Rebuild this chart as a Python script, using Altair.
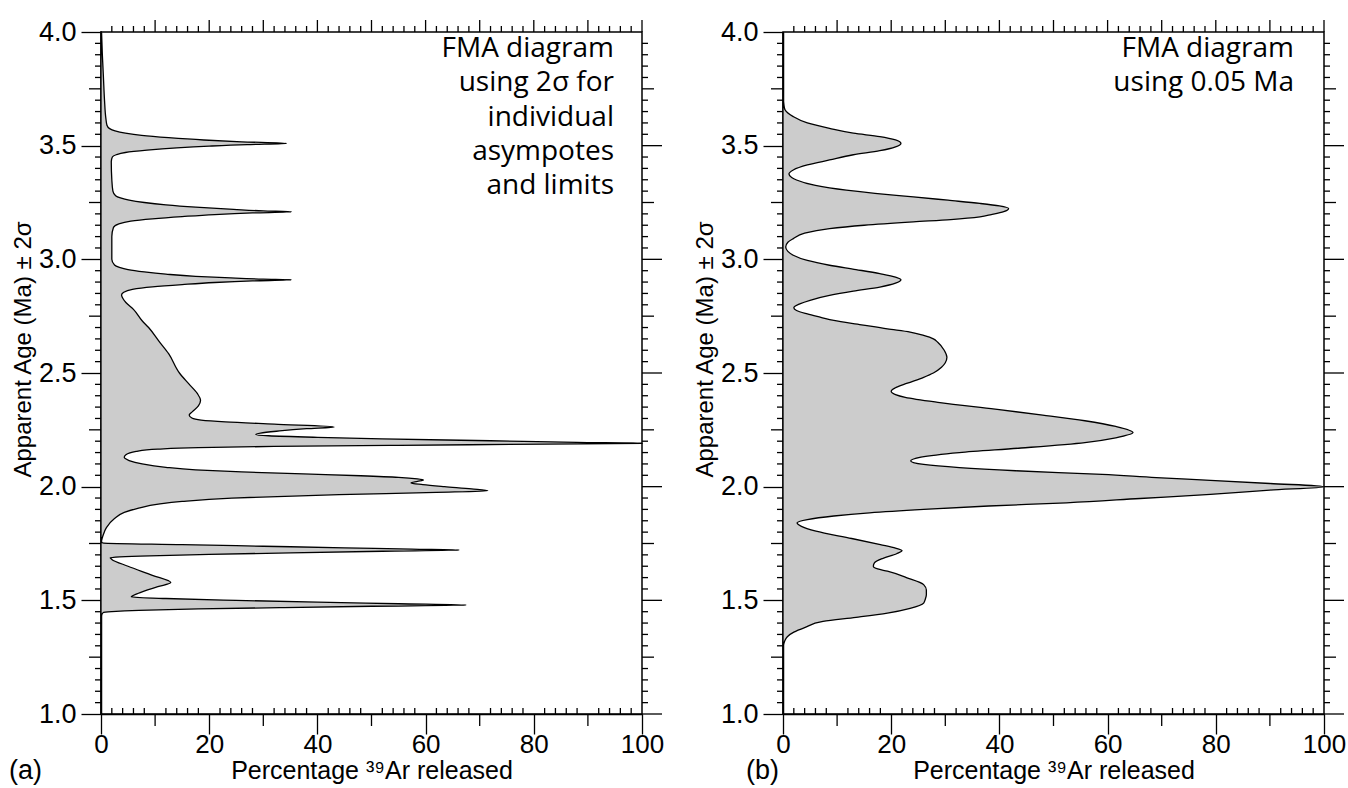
import altair as alt
import pandas as pd

# ---------------- data ----------------
# Panel (a): FMA diagram using 2 sigma  (age in Ma, percentage 39Ar)
age_a = [4.00, 3.90, 3.80, 3.70, 3.62, 3.59, 3.575, 3.565, 3.555, 3.545, 3.535, 3.525, 3.517, 3.51,
         3.505, 3.498, 3.49, 3.48, 3.47, 3.46, 3.45, 3.43, 3.35, 3.30, 3.28, 3.27, 3.26, 3.25, 3.24,
         3.23, 3.22, 3.213, 3.209, 3.204, 3.197, 3.188, 3.178, 3.168, 3.155, 3.14, 3.10, 3.00, 2.975,
         2.965, 2.955, 2.945, 2.935, 2.925, 2.918, 2.913, 2.910, 2.905, 2.898, 2.889, 2.879, 2.868,
         2.855, 2.843, 2.83, 2.81, 2.78, 2.73, 2.70, 2.64, 2.585, 2.50, 2.453, 2.41, 2.38, 2.355, 2.33,
         2.315, 2.302, 2.293, 2.285, 2.275, 2.263, 2.255, 2.245, 2.236, 2.230, 2.224, 2.217, 2.210,
         2.202, 2.195, 2.191, 2.187, 2.182, 2.177, 2.172, 2.165, 2.155, 2.14, 2.129, 2.115, 2.10, 2.085,
         2.074, 2.065, 2.056, 2.048, 2.041, 2.034, 2.029, 2.023, 2.016, 2.009, 2.0, 1.99, 1.982, 1.975,
         1.965, 1.95, 1.935, 1.924, 1.905, 1.887, 1.86, 1.82, 1.78, 1.755, 1.752, 1.745, 1.738, 1.731,
         1.725, 1.721, 1.716, 1.709, 1.702, 1.696, 1.691, 1.687, 1.68, 1.65, 1.61, 1.578, 1.56, 1.53,
         1.515, 1.508, 1.500, 1.492, 1.485, 1.479, 1.474, 1.468, 1.462, 1.456, 1.450, 1.446, 1.43,
         1.2, 1.0]
pct_a = [0.05, 0.25, 0.45, 0.65, 0.9, 1.1, 1.6, 2.6, 4.5, 7.5, 12.5, 19, 26, 34.3,
         27, 20, 14, 8.5, 4.5, 2.8, 2.1, 1.9, 2.0, 2.2, 2.7, 3.6, 5.2, 8.0, 12.0,
         17.5, 24.5, 30, 35.2, 28, 21, 15, 9.5, 5.5, 3.2, 2.3, 2.0, 2.0, 2.5,
         3.4, 5.0, 8.0, 12.0, 17.5, 24, 30, 35.2, 28, 21, 15, 9.5, 5.8,
         4.2, 3.8, 4.0, 4.6, 6.0, 7.6, 8.8, 10.7, 12.5, 14.5, 16.2, 17.8, 18.4, 18.0, 16.9,
         16.3, 16.8, 18.5, 23, 32, 43.1, 38, 33, 29.5, 28.6, 31, 40, 52,
         72, 88, 100, 82, 55, 32, 18, 10.5, 6.5, 4.6, 4.3, 5.2, 7.6, 12,
         17.5, 26, 37.4, 48, 55, 58.5, 59.6, 58.5, 57.3, 59.5, 63.5, 68.5, 71.5, 62,
         44, 24.2, 15, 10.9, 6.8, 4.3, 2.5, 1.0, 0.3, 0.0, 0.5, 15, 30, 45,
         57.5, 66.2, 52, 35, 20, 9, 3.5, 1.7, 2.0, 5, 9.5, 12.9, 10.5, 6.8,
         5.6, 12, 25, 40, 55, 67.5, 50, 33, 18, 7, 2, 0.4, 0.05,
         0.0, 0.0]

# Panel (b): FMA diagram using 0.05 Ma
age_b = [4.0, 3.75, 3.70, 3.68, 3.657, 3.628, 3.60, 3.576, 3.555, 3.54, 3.525, 3.51, 3.495, 3.478,
         3.46, 3.437, 3.415, 3.393, 3.375, 3.36, 3.349, 3.325, 3.304, 3.29, 3.275, 3.26, 3.246,
         3.235, 3.224, 3.21, 3.197, 3.187, 3.175, 3.165, 3.15, 3.135, 3.115, 3.091, 3.075, 3.054,
         3.035, 3.018, 2.995, 2.974, 2.955, 2.937, 2.922, 2.910, 2.895, 2.878, 2.86, 2.841, 2.82,
         2.804, 2.787, 2.775, 2.76, 2.745, 2.731, 2.712, 2.694, 2.68, 2.665, 2.65, 2.635, 2.60,
         2.569, 2.545, 2.525, 2.50, 2.481, 2.455, 2.434, 2.42, 2.405, 2.393, 2.37, 2.341, 2.315,
         2.29, 2.265, 2.238, 2.215, 2.194, 2.17, 2.15, 2.13, 2.113, 2.098, 2.084, 2.07, 2.054, 2.04,
         2.028, 2.014, 2.0, 1.985, 1.966, 1.948, 1.929, 1.915, 1.90, 1.885, 1.871, 1.855, 1.841,
         1.825, 1.804, 1.772, 1.745, 1.73, 1.719, 1.705, 1.685, 1.665, 1.65, 1.638, 1.628, 1.60,
         1.569, 1.545, 1.525, 1.505, 1.488, 1.465, 1.444, 1.425, 1.407, 1.38, 1.36, 1.34, 1.32,
         1.30, 1.2, 1.0]
pct_b = [0, 0, 0.05, 0.15, 0.4, 1.9, 4.5, 8.6, 13, 17.9, 20.8, 21.8, 20.8, 17.9,
         13, 8.6, 4.5, 1.9, 1.1, 1.6, 2.5, 6.0, 11.7, 17, 24.1, 30.5, 36.4,
         40, 41.7, 40.8, 38.5, 36.4, 31, 24.1, 15, 8.6, 4.0, 1.9, 0.9, 0.5,
         0.9, 1.9, 4.5, 8.6, 13.5, 17.9, 20.8, 21.8, 20.8, 17.9, 13, 8.6, 5.0,
         3.1, 2.0, 2.5, 4.5, 7.0, 9.4, 14.5, 19.3, 23.5, 26, 27.8, 28.6, 29.8,
         30.3, 30.0, 29.3, 27.8, 26, 23, 20.7, 20.0, 20.8, 22.6, 29, 39.2, 48,
         55.8, 61.5, 64.7, 61.5, 55.8, 44, 32.6, 25.5, 23.6, 26, 32.6, 43, 59, 69,
         79, 90, 100, 90, 79, 66, 52.4, 38, 26, 16, 9.4, 4.5, 2.6,
         3.4, 6.1, 12.7, 18, 20.8, 22, 21, 18.5, 16.9, 16.7, 17.5, 19.3, 22.8,
         26, 26.5, 26.5, 26.3, 26, 23.5, 19.3, 13.5, 7.4, 4.0, 2.0, 0.8, 0.3,
         0.05, 0, 0]

# axis tick values
y_major = [1.0, 1.5, 2.0, 2.5, 3.0, 3.5, 4.0]
y_medium = [1.25, 1.75, 2.25, 2.75, 3.25, 3.75]
y_minor = [round(1 + 0.05 * i, 2) for i in range(61) if i % 5 != 0]
x_major = [0, 20, 40, 60, 80, 100]
x_medium = [10, 30, 50, 70, 90]
x_minor = [i for i in range(2, 100, 2) if i % 10 != 0]
x_tens = [10, 20, 30, 40, 50, 60, 70, 80, 90, 100]

notes_a = ["FMA diagram", "using 2σ for", "individual", "asympotes", "and limits"]
notes_b = ["FMA diagram", "using 0.05 Ma"]

W, H = 541, 682
FONT = "Liberation Sans"
FS = 27
xscale = alt.Scale(domain=[0, 100], nice=False)
yscale = alt.Scale(domain=[1, 4], nice=False, zero=False)
xaxis = alt.Axis(values=x_major, tickSize=20, tickWidth=1.3, domainWidth=1.5,
                 labelFontSize=26, labelPadding=-3, title="Percentage ³⁹Ar released",
                 titleFontSize=25, titlePadding=1, labelFlush=False)
yaxis = alt.Axis(values=y_major, format=".1f", tickSize=20, tickWidth=1.3,
                 domainWidth=1.5, labelFontSize=FS, labelPadding=5,
                 title="Apparent Age (Ma) ± 2σ", titleFontSize=24, titleY=317,
                 titlePadding=3, labelFlush=False)


def vticks(vals, x1, x2):
    return alt.Chart(pd.DataFrame({"age": vals})).mark_rule(color="black", strokeWidth=1.3).encode(
        y=alt.Y("age:Q", scale=yscale, axis=yaxis), x=alt.value(x1), x2=alt.value(x2))


def hticks(vals, y1, y2):
    return alt.Chart(pd.DataFrame({"pct": vals})).mark_rule(color="black", strokeWidth=1.3).encode(
        x=alt.X("pct:Q", scale=xscale, axis=xaxis), y=alt.value(y1), y2=alt.value(y2))


def panel(ages, pcts, tag, tag_x, notes, note_right):
    df = pd.DataFrame({"age": ages, "pct": pcts}).sort_values("age")
    area = alt.Chart(df).mark_area(
        orient="horizontal", interpolate="monotone", fill="#cccccc",
        stroke="black", strokeWidth=1.3
    ).encode(
        x=alt.X("pct:Q", scale=xscale, axis=xaxis),
        y=alt.Y("age:Q", scale=yscale, axis=yaxis),
    )
    layers = [
        area,
        vticks(y_medium, 0, -12), vticks(y_minor, 0, -6),
        vticks(y_major[:-1], W, W + 20), vticks(y_medium, W, W + 12), vticks(y_minor, W, W + 6),
        hticks(x_tens, 0, -12), hticks(x_minor, 0, -6),
        hticks(x_medium, H, H + 12), hticks(x_minor, H, H - 6),
    ]
    one = pd.DataFrame({"k": [0]})
    label = alt.Chart(one).mark_text(
        font=FONT, fontSize=FS, align="left", baseline="middle", color="black"
    ).encode(x=alt.value(tag_x), y=alt.value(H + 57), text=alt.value(tag))
    note = alt.Chart(one).mark_text(
        font="Open Sans", fontSize=28, align="right", baseline="alphabetic",
        lineHeight=34.3, color="black"
    ).encode(x=alt.value(W - note_right), y=alt.value(25), text=alt.value(notes))
    layers += [label, note]
    return alt.layer(*layers).properties(width=W, height=H)


left = panel(age_a, pct_a, "(a)", -92, notes_a, 28)
right = panel(age_b, pct_b, "(b)", -37, notes_b, 30)

chart = alt.hconcat(left, right, spacing=27).properties(
    padding={"left": 8, "top": 17, "right": 0, "bottom": 0}
).configure_view(
    stroke="black", strokeWidth=1.5
).configure_axis(
    labelFont=FONT, titleFont=FONT, labelColor="black", titleColor="black",
    domainColor="black", tickColor="black", grid=False, titleFontWeight="normal"
)

chart.save("out.html", embed_options={"renderer": "svg", "actions": False})
